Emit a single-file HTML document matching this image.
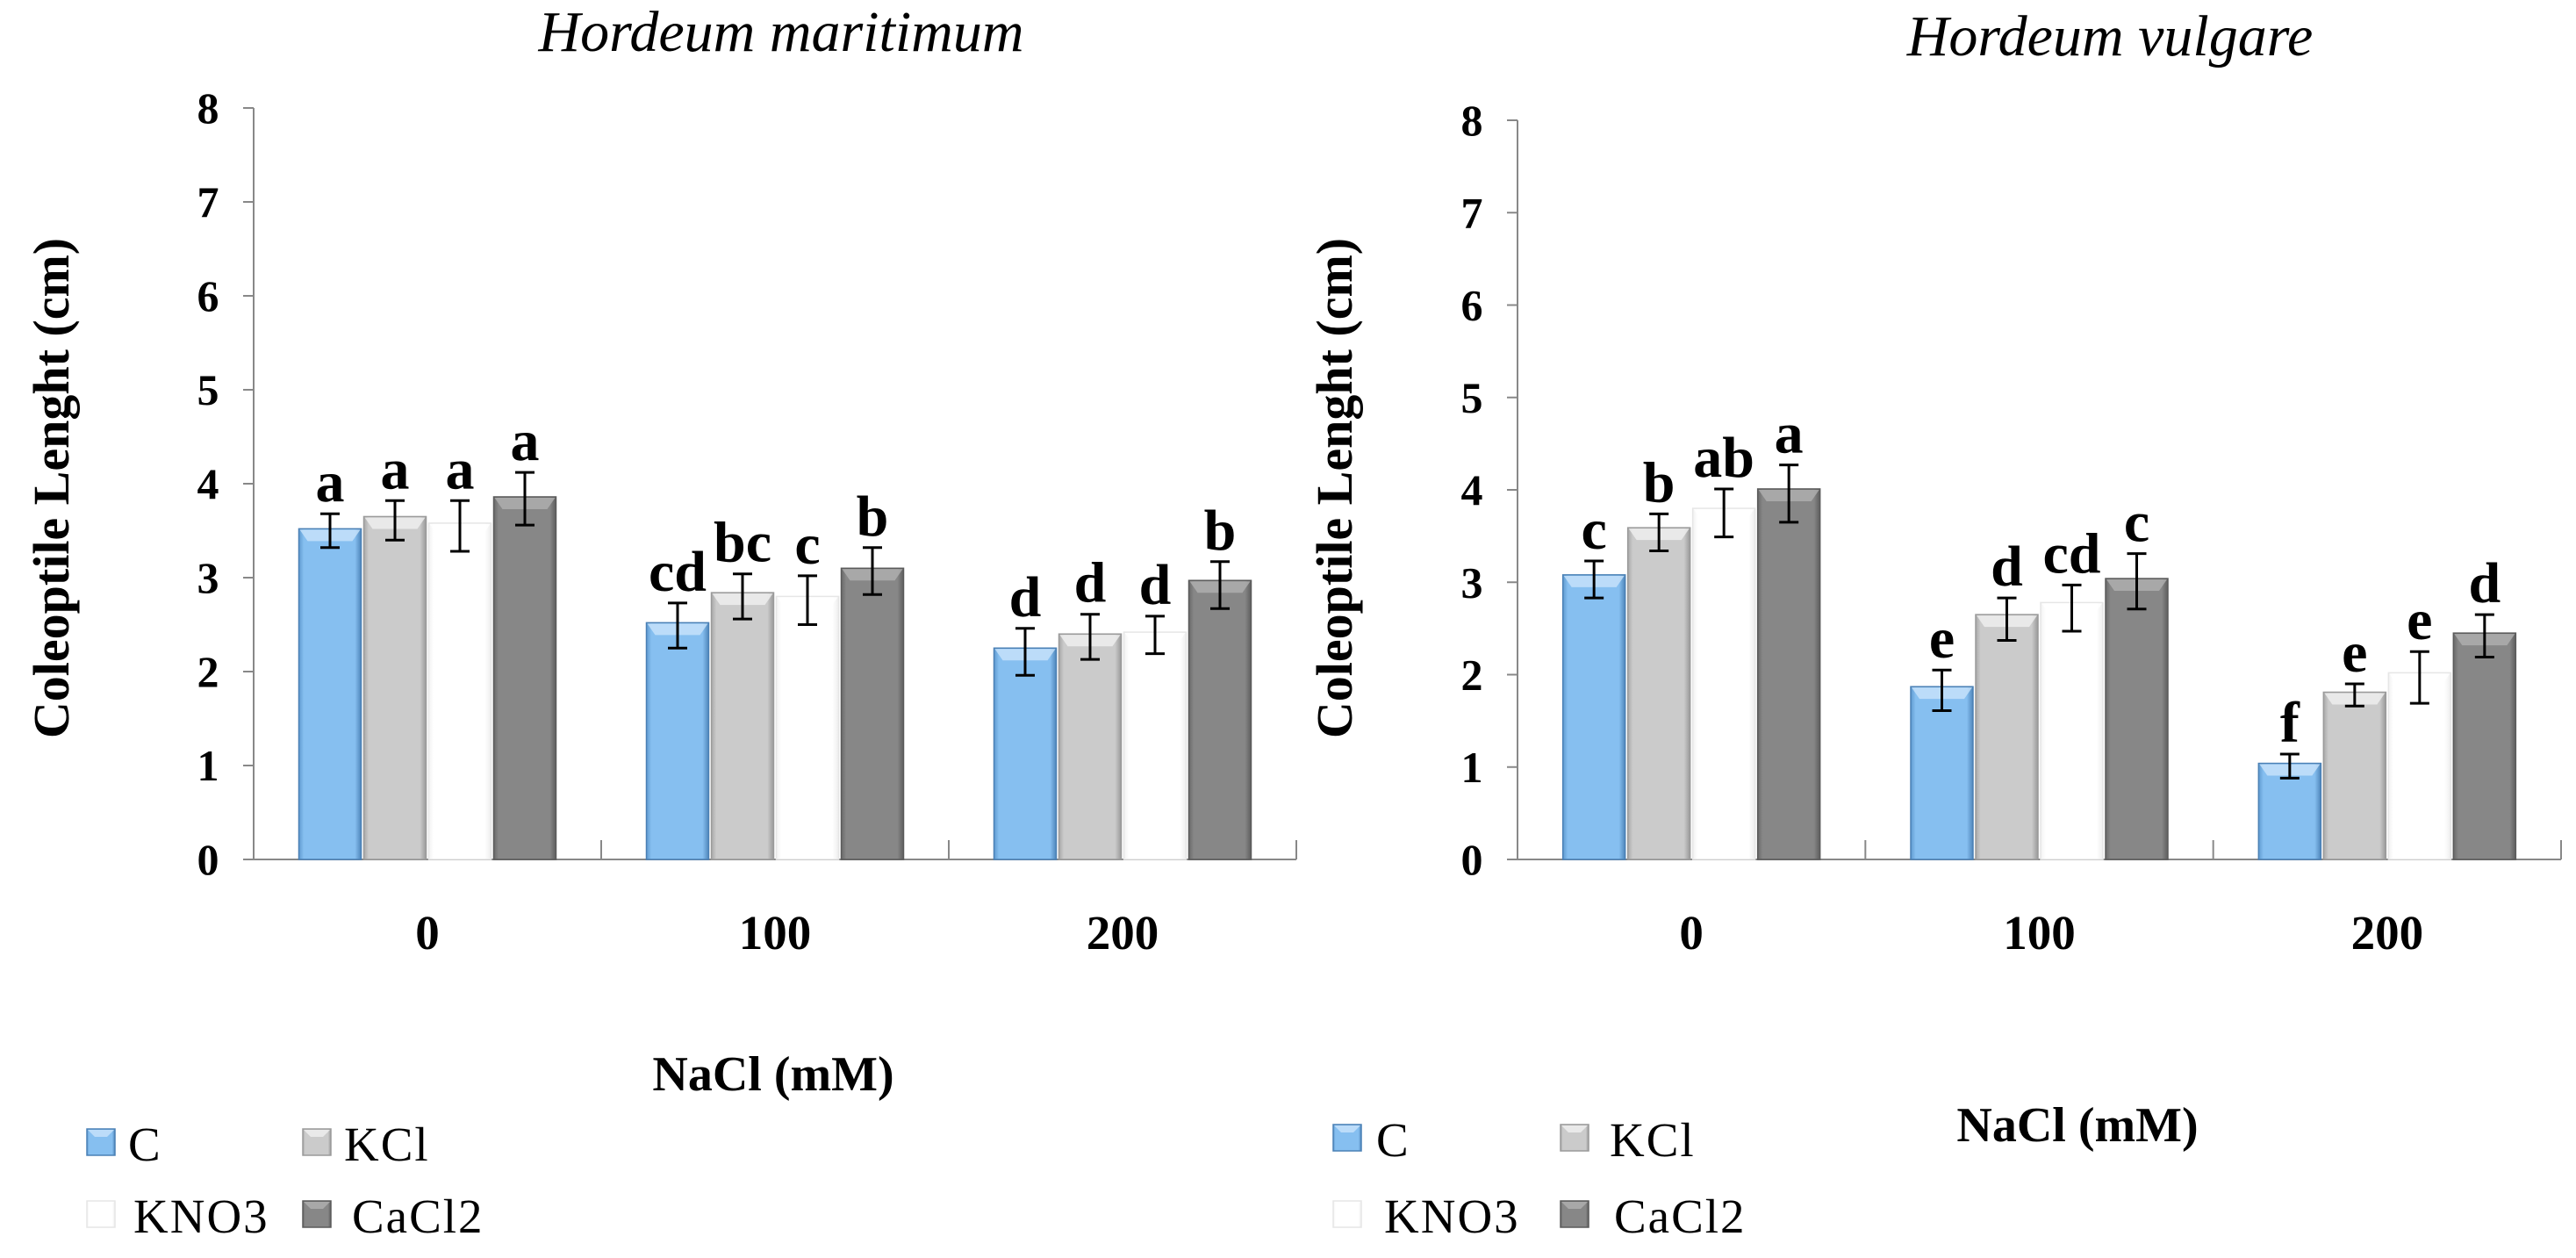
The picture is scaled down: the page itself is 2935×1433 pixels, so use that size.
<!DOCTYPE html>
<html><head><meta charset="utf-8"><style>
html,body{margin:0;padding:0;background:#fff;}
svg{display:block;font-family:"Liberation Serif",serif;}
</style></head><body>
<svg id="chart" width="2935" height="1433" viewBox="0 0 2935 1433" xmlns="http://www.w3.org/2000/svg">
<defs>
<linearGradient id="gC" x1="0" x2="1"><stop offset="0" stop-color="#5f9ad0"/><stop offset="0.08" stop-color="#86bff0"/><stop offset="0.9" stop-color="#86bff0"/><stop offset="1" stop-color="#4f86bb"/></linearGradient>
<linearGradient id="gK" x1="0" x2="1"><stop offset="0" stop-color="#a8a8a8"/><stop offset="0.08" stop-color="#cbcbcb"/><stop offset="0.9" stop-color="#cbcbcb"/><stop offset="1" stop-color="#999"/></linearGradient>
<linearGradient id="gN" x1="0" x2="1"><stop offset="0" stop-color="#f2f2f2"/><stop offset="0.08" stop-color="#fff"/><stop offset="0.9" stop-color="#fff"/><stop offset="1" stop-color="#eee"/></linearGradient>
<linearGradient id="gCa" x1="0" x2="1"><stop offset="0" stop-color="#6a6a6a"/><stop offset="0.08" stop-color="#878787"/><stop offset="0.9" stop-color="#878787"/><stop offset="1" stop-color="#5e5e5e"/></linearGradient>
</defs>
</svg>
<script>
const categories = ["0","100","200"];
const seriesNames = ["C","KCl","KNO3","CaCl2"];
const yTicks = [0,1,2,3,4,5,6,7,8];
// Hordeum maritimum
const hmC = [3.52,2.52,2.25];
const hmKCl = [3.65,2.84,2.40];
const hmKNO3 = [3.58,2.80,2.42];
const hmCaCl2 = [3.86,3.10,2.97];
const hmErr = [[0.18,0.24,0.25],[0.21,0.24,0.24],[0.27,0.26,0.20],[0.28,0.25,0.25]];
const hmErrMid = [[3.50,2.49,2.21],[3.61,2.80,2.37],[3.55,2.76,2.39],[3.84,3.07,2.92]];
const hmLetters = [["a","cd","d"],["a","bc","d"],["a","c","d"],["a","b","b"]];
// Hordeum vulgare
const hvC = [3.08,1.87,1.04];
const hvKCl = [3.59,2.65,1.81];
const hvKNO3 = [3.80,2.78,2.02];
const hvCaCl2 = [4.01,3.04,2.45];
const hvErr = [[0.20,0.22,0.13],[0.20,0.23,0.12],[0.26,0.25,0.28],[0.31,0.30,0.23]];
const hvErrMid = [[3.03,1.83,1.01],[3.54,2.60,1.78],[3.75,2.72,1.97],[3.96,3.01,2.42]];
const hvLetters = [["c","e","f"],["b","d","e"],["ab","cd","e"],["a","c","d"]];

const NS="http://www.w3.org/2000/svg";
const svg=document.getElementById('chart');
function mk(tag,attrs,parent,text){const e=document.createElementNS(NS,tag);for(const k in attrs)e.setAttribute(k,attrs[k]);if(text!==undefined)e.textContent=text;(parent||svg).appendChild(e);return e;}
const fills=["url(#gC)","url(#gK)","url(#gN)","url(#gCa)"];
const tops=["#c9e4fb","#f0f0f0","#fff","#b0b0b0"];
const strokes=["#4a80b5","#9a9a9a","#e6e6e6","#5a5a5a"];

function drawPanel(o){
  const g=mk('g',{});
  
  
  const y=v=>o.y0-(o.y0-o.y8)*v/8;
  const catW=(o.xEnd-o.x0)/categories.length;
  const x=i=>o.x0+catW*i;
  const t=mk('text',{x:o.titleX,y:o.titleY,'text-anchor':'middle','font-size':66,'font-style':'italic'},g,o.title);
  
  const ya=mk('line',{x1:o.x0,y1:o.y8,x2:o.x0,y2:o.y0,stroke:'#888','stroke-width':2},g);
  
  const xa=mk('line',{x1:o.x0,y1:o.y0,x2:o.xEnd,y2:o.y0,stroke:'#888','stroke-width':2},g);
  
  yTicks.forEach(v=>{
    mk('line',{x1:o.x0-12,y1:y(v),x2:o.x0,y2:y(v),stroke:'#888','stroke-width':2},g);
    const tl=mk('text',{x:o.x0-52,y:y(v)+17,'text-anchor':'middle','font-size':50,'font-weight':'bold'},g,String(v));
    
  });
  for(let i=1;i<=categories.length;i++)mk('line',{x1:x(i),y1:o.y0-22,x2:x(i),y2:o.y0,stroke:'#888','stroke-width':2},g);
  const yt=mk('text',{transform:`translate(${o.ytX},${o.ytY}) rotate(-90)`,'text-anchor':'middle','font-size':58,'font-weight':'bold'},g,'Coleoptile Lenght (cm)');
  
  const bw=71,gap=3,gw=4*bw+3*gap;
  categories.forEach((c,ci)=>{
    const cx=x(ci)+catW/2;
    const cl=mk('text',{x:cx,y:o.catY,'text-anchor':'middle','font-size':55,'font-weight':'bold'},g,c);
    
    o.series.forEach((s,si)=>{
      const bx=cx-gw/2+si*(bw+gap);
      const v=s[ci],by=y(v);
      const r=mk('rect',{x:bx,y:by,width:bw,height:o.y0-by,fill:fills[si],stroke:strokes[si],'stroke-width':1.5},g);
      
      
      mk('polygon',{points:`${bx+1},${by+1} ${bx+bw-1},${by+1} ${bx+bw-10},${by+14} ${bx+10},${by+14}`,fill:tops[si],opacity:0.8},g);
      const m=o.errMid[si][ci],e=o.err[si][ci],ex=bx+bw/2;
      const eb=mk('path',{d:`M${ex},${y(m+e)}V${y(m-e)}M${ex-11},${y(m+e)}H${ex+11}M${ex-11},${y(m-e)}H${ex+11}`,stroke:'#000','stroke-width':3,fill:'none'},g);
      
      const lt=mk('text',{x:ex,y:y(m+e)-14,'text-anchor':'middle','font-size':66,'font-weight':'bold'},g,o.letters[si][ci]);
      
    });
  });
  const xt=mk('text',{x:o.xtX,y:o.xtY,'text-anchor':'middle','font-size':56,'font-weight':'bold'},g,'NaCl (mM)');
  
  const pos=[[0,0],[1,0],[0,1],[1,1]];
  seriesNames.forEach((n,si)=>{
    const lx=o.legX[pos[si][0]],ly=o.legY[pos[si][1]];
    const le=mk('g',{},g);
    
    
    mk('rect',{x:lx,y:ly,width:32,height:30,fill:fills[si],stroke:strokes[si],'stroke-width':1.5},le);
    mk('polygon',{points:`${lx+1},${ly+1} ${lx+31},${ly+1} ${lx+23},${ly+9} ${lx+9},${ly+9}`,fill:tops[si],opacity:0.8},le);
    mk('text',{x:lx+o.legTextDx[pos[si][0]][pos[si][1]],y:ly+36,'font-size':55,'letter-spacing':2},le,n);
  });
}
drawPanel({name:'panel-hordeum-maritimum',title:'Hordeum maritimum',titleX:890,titleY:58,x0:289,xEnd:1477,y0:979,y8:123,
  ytX:78,ytY:556,catY:1081,xtX:881,xtY:1242,series:[hmC,hmKCl,hmKNO3,hmCaCl2],err:hmErr,errMid:hmErrMid,letters:hmLetters,
  legX:[99,345],legY:[1286,1368],legTextDx:[[47,53],[47,56]]});
drawPanel({name:'panel-hordeum-vulgare',title:'Hordeum vulgare',titleX:2404,titleY:63,x0:1729,xEnd:2918,y0:979,y8:137,
  ytX:1540,ytY:556,catY:1081,xtX:2367,xtY:1300,series:[hvC,hvKCl,hvKNO3,hvCaCl2],err:hvErr,errMid:hvErrMid,letters:hvLetters,
  legX:[1519,1778],legY:[1281,1368],legTextDx:[[49,58],[56,61]]});
</script>
</body></html>
